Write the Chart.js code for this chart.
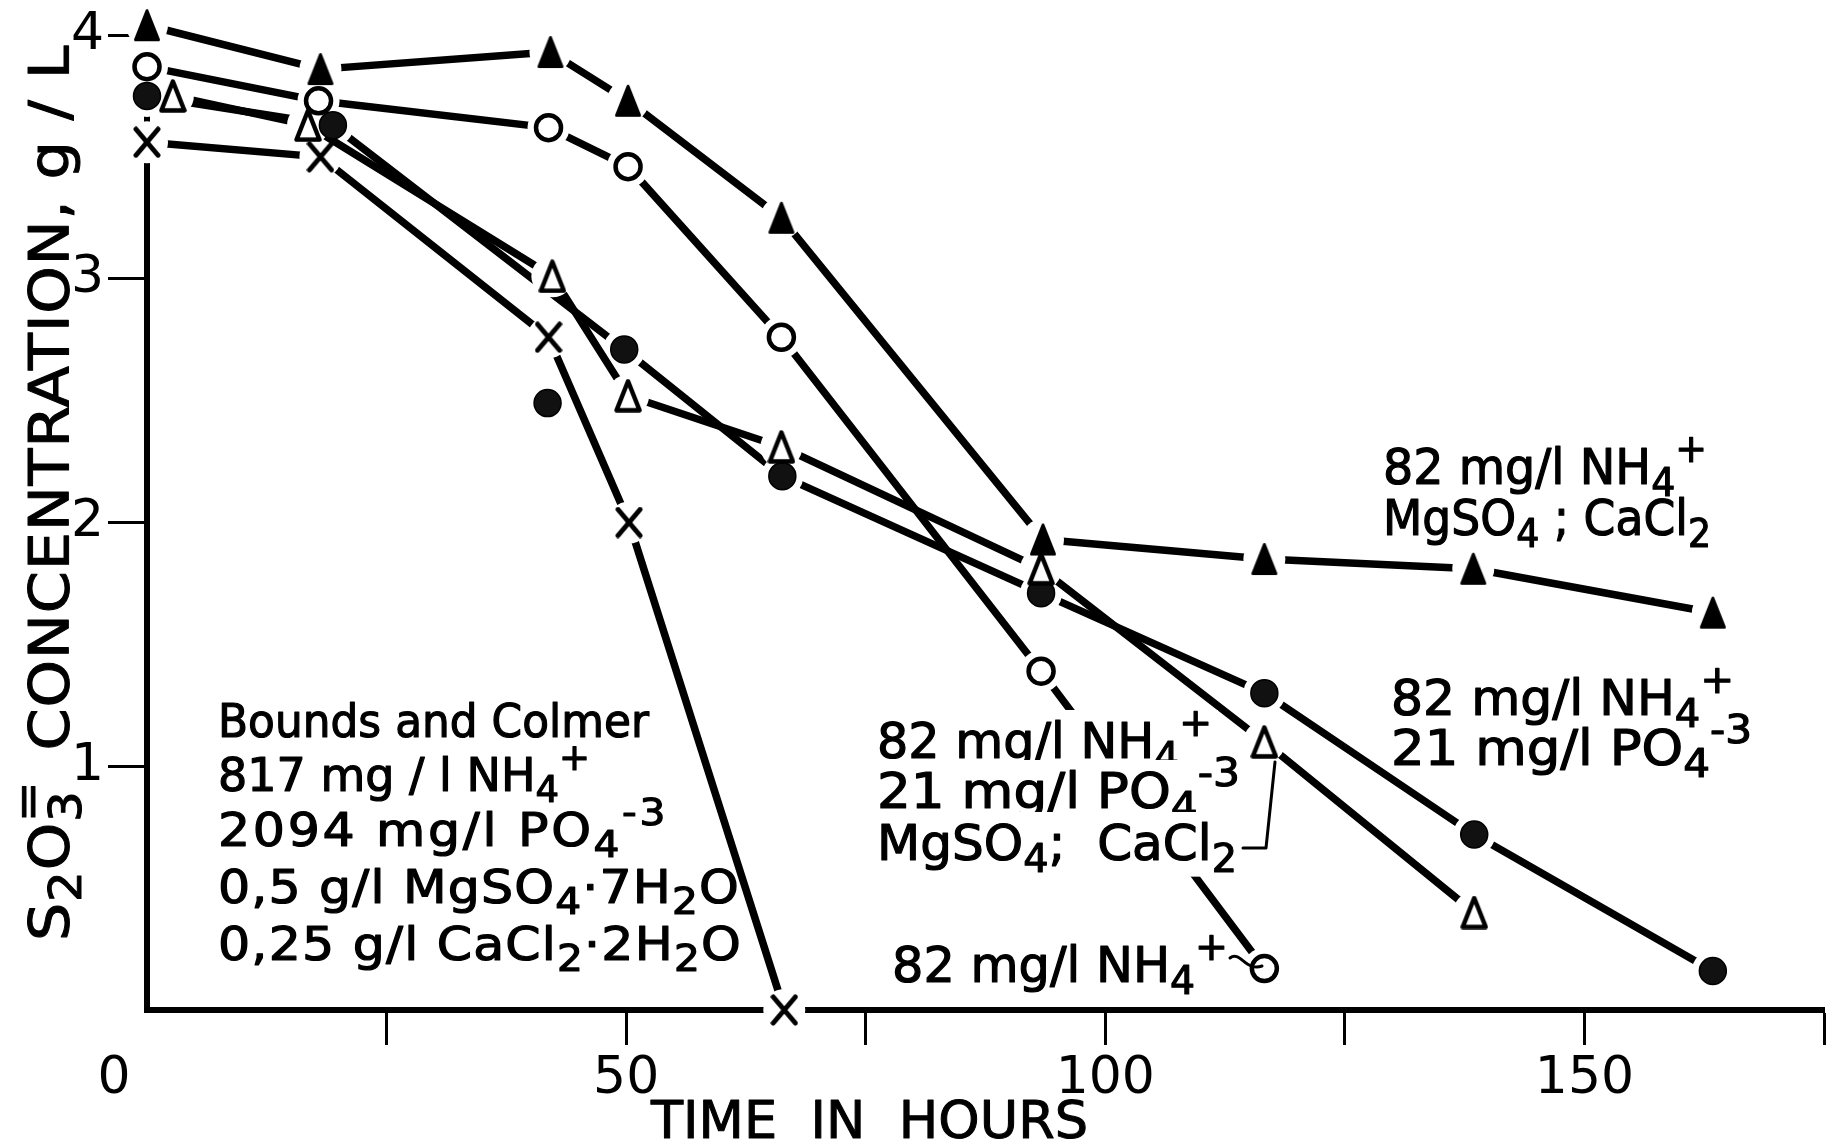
<!DOCTYPE html>
<html><head><meta charset="utf-8">
<script src="https://cdn.jsdelivr.net/npm/chart.js@4.4.1/dist/chart.umd.min.js"></script>
<style>html,body{margin:0;padding:0;background:#fff;}#wrap{position:relative;width:1845px;height:1144px;}</style>
</head><body><div id="wrap"><canvas id="c" width="1845" height="1144"></canvas></div>
<script>
// ---------------- data ----------------
const xTickLabels = [0, 50, 100, 150];
const yTickLabels = [1, 2, 3, 4];

// 82 mg/l NH4+ ; MgSO4 ; CaCl2  (filled triangles)
const tFilledTri = [0, 18.1, 42.1, 50.2, 66.2, 93.5, 116.6, 138.4, 163.4];
const sFilledTri = [4.04, 3.86, 3.93, 3.73, 3.25, 1.93, 1.85, 1.81, 1.63];

// 82 mg/l NH4+ (open circles)
const tOpenCirc = [0, 17.9, 41.9, 50.2, 66.2, 93.3, 116.6];
const sOpenCirc = [3.87, 3.73, 3.62, 3.46, 2.76, 1.39, 0.17];

// 82 mg/l NH4+ ; 21 mg/l PO4-3 ; MgSO4 ; CaCl2 (open triangles)
const tOpenTri = [2.7, 16.8, 42.3, 50.2, 66.2, 93.3, 116.6, 138.5];
const sOpenTri = [3.75, 3.63, 3.01, 2.52, 2.31, 1.81, 1.10, 0.40];

// 82 mg/l NH4+ ; 21 mg/l PO4-3 (filled circles)
const tFilledCirc = [0, 19.4, 49.8, 66.3, 93.3, 116.6, 138.5, 163.4];
const sFilledCirc = [3.75, 3.63, 2.71, 2.19, 1.71, 1.30, 0.72, 0.16];
const tFilledCircLone = [41.8];
const sFilledCircLone = [2.49];

// Bounds and Colmer (crosses)
const tBounds = [0, 18.1, 41.9, 50.3, 66.5];
const sBounds = [3.56, 3.50, 2.76, 2.00, 0];

// ---------------- text ----------------
const yTitle = "S_{2}O_{3}^!{=}  CONCENTRATION, g / L";
const xTitle = "TIME  IN  HOURS";
const annoBlocks = [
  {x:1383, size:49, bl:[484, 535], lines:[["82 mg/l NH_{4}^{+}",324],["MgSO_{4} ; CaCl_{2}",328]]},
  {x:1391, size:49, bl:[715, 765], lines:[["82 mg/l NH_{4}^{+}",343],["21 mg/l PO_{4}^{-3}",361]]},
  {x:877, size:49, bl:[758, 808, 860], bg:true, lines:[["82 mg/l NH_{4}^{+}",335],["21 mg/l PO_{4}^{-3}",363],["MgSO_{4};  CaCl_{2}",360]]},
  {x:892, size:49, bl:[982], lines:[["82 mg/l NH_{4}^{+}",336]]},
  {x:218, size:46, bl:[737, 791, 846, 903, 960], lines:[["Bounds and Colmer",431],["817 mg / l NH_{4}^{+}",372],["2094 mg/l PO_{4}^{-3}",450],["0,5 g/l MgSO_{4}·7H_{2}O",522],["0,25 g/l CaCl_{2}·2H_{2}O",524]]}
];

// ---------------- helpers ----------------
const pts = (xs, ys) => xs.map((x, i) => ({x, y: ys[i]}));

function makeTri(filled) {
  const w = 28, h = 34, c = document.createElement('canvas');
  c.width = w; c.height = h;
  const g = c.getContext('2d');
  g.beginPath(); g.moveTo(w/2, 2.5); g.lineTo(w-2.5, h-2.5); g.lineTo(2.5, h-2.5); g.closePath();
  g.lineJoin = 'round'; g.strokeStyle = '#000';
  if (filled) { g.fillStyle = '#000'; g.fill(); g.lineWidth = 3; g.stroke(); }
  else { g.fillStyle = '#fff'; g.fill(); g.lineWidth = 4.5; g.stroke(); }
  return c;
}
function makeX() {
  const w = 28, h = 32, c = document.createElement('canvas');
  c.width = w; c.height = h;
  const g = c.getContext('2d');
  g.strokeStyle = '#000'; g.lineWidth = 5; g.lineCap = 'round';
  g.beginPath(); g.moveTo(3, 3); g.lineTo(w-3, h-3); g.moveTo(w-3, 3); g.lineTo(3, h-3); g.stroke();
  return c;
}
const imgFilledTri = makeTri(true), imgOpenTri = makeTri(false), imgX = makeX();

function parseRich(str) {
  const segs = []; const re = /(_\{[^}]*\}|\^!?\{[^}]*\})/g; let last = 0, m;
  while ((m = re.exec(str))) {
    if (m.index > last) segs.push({t: str.slice(last, m.index), k: ''});
    const tok = m[0];
    if (tok[0] === '_') segs.push({t: tok.slice(2, -1), k: 'sub'});
    else if (tok[1] === '!') segs.push({t: tok.slice(3, -1), k: 'supStack'});
    else segs.push({t: tok.slice(2, -1), k: 'sup'});
    last = re.lastIndex;
  }
  if (last < str.length) segs.push({t: str.slice(last), k: ''});
  return segs;
}
const FAM = '"DejaVu Sans"';
const segFont = (k, size) => (k ? Math.round(size * 0.8) : size) + 'px ' + FAM;
function drawRich(g, x, y, str, size, target, weight) {
  const segs = parseRich(str);
  g.save();
  g.letterSpacing = '0px';
  const widths = segs.map(s => { g.font = segFont(s.k, size); return g.measureText(s.t).width; });
  let nat = 0, n = 0;
  segs.forEach((s, i) => { if (s.k !== 'supStack') { nat += widths[i]; n += [...s.t].length; } });
  let sx = target ? target / nat : 1;
  sx = Math.max(0.93, Math.min(1.1, sx));
  const ls = target ? (target / sx - nat) / Math.max(1, n) : 0;
  g.translate(x, y); g.scale(sx, 1);
  g.lineWidth = weight || 0; g.strokeStyle = g.fillStyle; g.lineJoin = 'round';
  let cx = 0, prevStart = 0;
  segs.forEach((s, i) => {
    g.font = segFont(s.k, size);
    g.letterSpacing = ls.toFixed(2) + 'px';
    const dy = s.k === 'sub' ? size * 0.24 : (s.k === 'sup' || s.k === 'supStack') ? -size * 0.45 : 0;
    const px = s.k === 'supStack' ? prevStart : cx;
    g.fillText(s.t, px, dy);
    if (weight) g.strokeText(s.t, px, dy);
    if (s.k === 'supStack') return;
    prevStart = cx;
    cx += widths[i] + ls * [...s.t].length;
  });
  g.restore();
}

const textPlugin = {
  id: 'textPlugin',
  beforeDraw(chart) {
    const g = chart.ctx; g.save(); g.fillStyle = '#fff'; g.fillRect(0, 0, chart.width, chart.height); g.restore();
  },
  afterDatasetsDraw(chart) {
    const g = chart.ctx;
    g.save();
    g.textAlign = 'left'; g.textBaseline = 'alphabetic';
    for (const b of annoBlocks) {
      b.lines.forEach((ln, i) => {
        const y = b.bl[i];
        if (b.bg) { g.fillStyle = '#fff'; g.fillRect(b.x - 8, y - b.size * 0.98, ln[1] + 14, b.size * 1.32); }
        g.fillStyle = '#000';
        drawRich(g, b.x, y, ln[0], b.size, ln[1], 1.2);
      });
    }
    // leader lines
    g.strokeStyle = '#000'; g.lineWidth = 3; g.lineCap = 'round'; g.lineJoin = 'round';
    g.beginPath(); g.moveTo(1243, 848); g.lineTo(1266, 848); g.lineTo(1275, 762); g.stroke();
    g.beginPath(); g.moveTo(1230, 958); g.bezierCurveTo(1240, 950, 1246, 972, 1262, 966); g.stroke();
    // axis titles
    g.fillStyle = '#000';
    drawRich(g, 651, 1138, xTitle, 51, 437, 1);
    g.translate(68, 492); g.rotate(-Math.PI / 2);
    drawRich(g, -449, 0, yTitle, 55, 896, 1);
    g.restore();
  }
};

// line datasets carry white "halo" points that open a small gap around each marker
const lineStyle = {showLine: true, borderColor: '#000', borderWidth: 7.5, borderCapStyle: 'round', borderJoinStyle: 'round', tension: 0, clip: false, order: 3,
  pointRadius: 21, pointBackgroundColor: '#ffffff', pointBorderColor: '#ffffff', pointBorderWidth: 0, pointStyle: 'circle'};

const datasets = [
  Object.assign({label: 'l1', data: pts(tFilledTri, sFilledTri)}, lineStyle),
  Object.assign({label: 'l2', data: pts(tOpenCirc, sOpenCirc)}, lineStyle),
  Object.assign({label: 'l3', data: pts(tOpenTri, sOpenTri)}, lineStyle),
  Object.assign({label: 'l4', data: pts(tFilledCirc, sFilledCirc)}, lineStyle),
  Object.assign({label: 'l4b', data: pts(tFilledCircLone, sFilledCircLone)}, lineStyle),
  Object.assign({label: 'l5', data: pts(tBounds, sBounds)}, lineStyle),
  {label: '82 mg/l NH4+ MgSO4; CaCl2', data: pts(tFilledTri, sFilledTri), showLine: false, pointStyle: imgFilledTri, pointRadius: 14, clip: false, order: 1},
  {label: '82 mg/l NH4+', data: pts(tOpenCirc, sOpenCirc), showLine: false, pointStyle: 'circle', pointRadius: 12.5, pointBorderWidth: 4.5, pointBorderColor: '#000', pointBackgroundColor: '#fff', clip: false, order: 1},
  {label: '82 mg/l NH4+ 21 mg/l PO4-3 MgSO4; CaCl2', data: pts(tOpenTri, sOpenTri), showLine: false, pointStyle: imgOpenTri, pointRadius: 14, clip: false, order: 1},
  {label: '82 mg/l NH4+ 21 mg/l PO4-3', data: pts(tFilledCirc, sFilledCirc), showLine: false, pointStyle: 'circle', pointRadius: 13.5, pointBorderWidth: 1.5, pointBorderColor: '#000', pointBackgroundColor: '#111', clip: false, order: 1},
  {label: '82 mg/l NH4+ 21 mg/l PO4-3 (b)', data: pts(tFilledCircLone, sFilledCircLone), showLine: false, pointStyle: 'circle', pointRadius: 13.5, pointBorderWidth: 1.5, pointBorderColor: '#000', pointBackgroundColor: '#111', clip: false, order: 1},
  {label: 'Bounds and Colmer', data: pts(tBounds, sBounds), showLine: false, pointStyle: imgX, pointRadius: 14, clip: false, order: 1}
];

Chart.defaults.font.family = 'DejaVu Sans';
new Chart(document.getElementById('c'), {
  type: 'scatter',
  data: {datasets},
  options: {
    responsive: false, animation: false, events: [],
    layout: {padding: {top: 35, right: 2, left: 0, bottom: 0}},
    plugins: {legend: {display: false}, tooltip: {enabled: false}},
    scales: {
      x: {
        type: 'linear', min: 0, max: 175, position: 'bottom',
        afterFit: s => { s.height = 134; s.paddingLeft = 0; s.paddingRight = 0; },
        border: {display: true, color: '#000', width: 6},
        grid: {display: true, drawOnChartArea: false, drawTicks: true, tickLength: 35, tickWidth: 3,
               tickColor: c => (c.tick && c.tick.value === 0) ? 'rgba(0,0,0,0)' : '#000'},
        ticks: {stepSize: 25, autoSkip: false, maxRotation: 0, padding: 3, color: '#000', font: {family: 'DejaVu Sans', size: 52},
                callback: v => xTickLabels.includes(v) ? (v === 0 ? '0    ' : String(v)) : ''}
      },
      y: {
        type: 'linear', min: 0, max: 4,
        afterFit: s => { s.width = 147; s.paddingTop = 0; s.paddingBottom = 0; },
        border: {display: true, color: '#000', width: 6},
        grid: {display: true, drawOnChartArea: false, drawTicks: true, tickLength: 39, tickWidth: 3,
               tickColor: c => (c.tick && c.tick.value === 0) ? 'rgba(0,0,0,0)' : '#000'},
        ticks: {stepSize: 1, padding: 4, color: '#000', font: {family: 'DejaVu Sans', size: 52},
                callback: v => yTickLabels.includes(v) ? String(v) : ''}
      }
    }
  },
  plugins: [textPlugin]
});
</script></body></html>
